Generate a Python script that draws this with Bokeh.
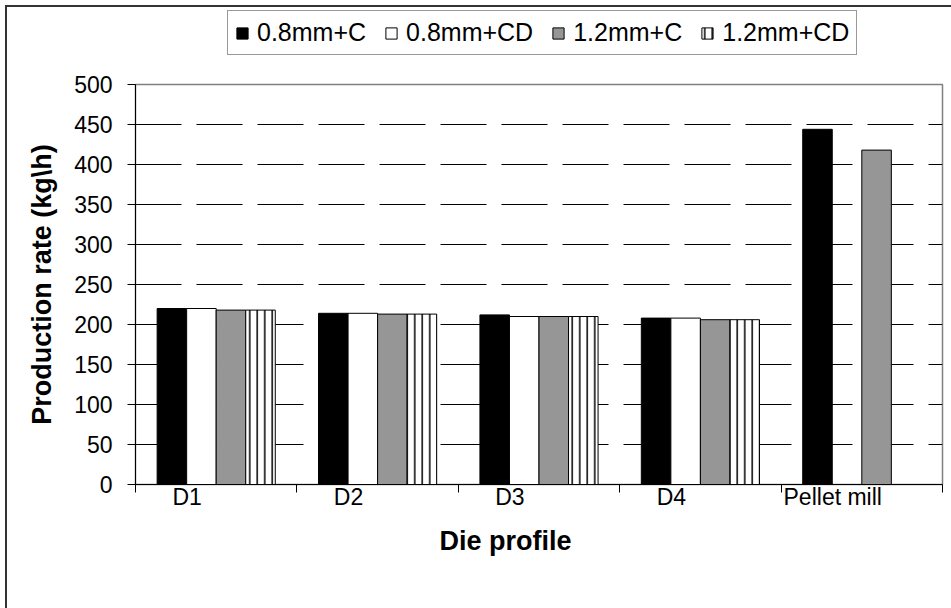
from bokeh.plotting import figure
from bokeh.layouts import column
from bokeh.models import (ColumnDataSource, Range1d, FixedTicker, Legend, LegendItem,
                          InlineStyleSheet, Title)
from bokeh.embed import file_html
from bokeh.resources import INLINE

# ---- data -------------------------------------------------------------
categories = ["D1", "D2", "D3", "D4", "Pellet mill"]
series_names = ["0.8mm+C", "0.8mm+CD", "1.2mm+C", "1.2mm+CD"]
v_08_c = [220, 214, 212, 208, 444]
v_08_cd = [220, 214, 210, 208, None]
v_12_c = [218, 213, 210, 206, 418]
v_12_cd = [218, 213, 210, 206, None]
y_ticks = [0, 50, 100, 150, 200, 250, 300, 350, 400, 450, 500]

series_values = [v_08_c, v_08_cd, v_12_c, v_12_cd]
fills = ["black", "white", "#969696", "white"]
hatches = [None, None, None, "vertical_line"]

FONT = "Liberation Sans"
BAR_W = 0.183
LABEL_SHIFT = -0.18


def bar_style(fc, hp):
    kw = dict(fill_color=fc, line_color="black", line_width=1)
    if hp:
        kw.update(hatch_pattern=hp, hatch_color="black", hatch_scale=7.5, hatch_weight=1.5)
    return kw


def series_source(k, vals):
    xs, tops = [], []
    for i, v in enumerate(vals):
        if v is None:
            continue
        xs.append(i + 0.5 + (k - 1.5) * BAR_W)
        tops.append(v)
    return ColumnDataSource(dict(x=xs, top=tops))


# ---- main chart -------------------------------------------------------
p = figure(width=946, height=543, output_backend="svg", toolbar_location=None,
           x_range=Range1d(0, len(categories)), y_range=Range1d(0, 500),
           min_border_left=130, min_border_right=9, min_border_top=19,
           min_border_bottom=124, frame_width=807, frame_height=400)
p.background_fill_color = "white"
p.border_fill_color = "white"
p.outline_line_color = "#808080"
p.outline_line_width = 1.5

for k, (vals, fc, hp) in enumerate(zip(series_values, fills, hatches)):
    p.vbar(x="x", top="top", width=BAR_W, bottom=0, source=series_source(k, vals),
           **bar_style(fc, hp))

# grid
p.xgrid.grid_line_color = None
p.ygrid.ticker = FixedTicker(ticks=y_ticks[1:-1])
p.ygrid.grid_line_color = "black"
p.ygrid.grid_line_width = 1
p.ygrid.grid_line_dash = "46 15"

# y axis
p.yaxis.ticker = FixedTicker(ticks=y_ticks)
p.yaxis.axis_label = "Production rate (kg\\h)"
p.yaxis.axis_label_text_font = FONT
p.yaxis.axis_label_text_font_style = "bold"
p.yaxis.axis_label_text_font_size = "27px"
p.yaxis.axis_label_text_color = "black"
p.yaxis.axis_label_standoff = 14
p.yaxis.major_label_text_font = FONT
p.yaxis.major_label_text_font_size = "23px"
p.yaxis.major_label_text_color = "black"
p.yaxis.major_tick_out = 8
p.yaxis.major_tick_in = 0
p.yaxis.minor_tick_line_color = None
p.yaxis.axis_line_color = "black"
p.yaxis.major_tick_line_color = "black"
p.yaxis.major_label_standoff = 15

# x axis
label_pos = [i + 0.5 + LABEL_SHIFT for i in range(len(categories))]
p.xaxis.ticker = FixedTicker(ticks=label_pos, minor_ticks=list(range(len(categories) + 1)))
p.xaxis.major_label_overrides = {pos: c for pos, c in zip(label_pos, categories)}
p.xaxis.major_tick_out = 0
p.xaxis.major_tick_in = 0
p.xaxis.minor_tick_out = 8
p.xaxis.minor_tick_in = 0
p.xaxis.minor_tick_line_color = "black"
p.xaxis.major_label_text_font = FONT
p.xaxis.major_label_text_font_size = "23px"
p.xaxis.major_label_text_color = "black"
p.xaxis.major_label_standoff = -9
p.xaxis.axis_line_color = "black"

x_title = Title(text="Die profile", align="left", offset=304, standoff=22,
                text_font=FONT, text_font_style="bold", text_font_size="27px",
                text_color="black")
p.add_layout(x_title, "below")

# ---- legend strip (same series, drawn outside its visible range) -------
lg = figure(width=946, height=60, output_backend="svg", toolbar_location=None,
            x_axis_type=None, y_axis_type=None, min_border=0,
            x_range=Range1d(0, len(categories)), y_range=Range1d(900, 1000))
lg.outline_line_color = None
lg.background_fill_color = "white"
lg.border_fill_color = "white"
lg.xgrid.visible = False
lg.ygrid.visible = False
legend_renderers = []
for k, (vals, fc, hp) in enumerate(zip(series_values, fills, hatches)):
    r = lg.vbar(x="x", top="top", width=BAR_W, bottom=0, source=series_source(k, vals),
                **bar_style(fc, hp))
    legend_renderers.append(r)
items = [LegendItem(label=n, renderers=[r]) for n, r in zip(series_names, legend_renderers)]
legend = Legend(items=items, orientation="horizontal", location=(92, 10),
                label_text_font=FONT, label_text_font_size="25px", label_text_color="black",
                glyph_width=14, glyph_height=14, label_standoff=8, spacing=18,
                padding=7, margin=0, border_line_color="#333", border_line_width=1.5,
                background_fill_alpha=1, label_height=24)
lg.add_layout(legend, "center")

root = column(lg, p, spacing=0, margin=(5, 0, 0, 5))
root.stylesheets = [InlineStyleSheet(css=(
    ":host { position: relative; }"
    ":host::after { content: ''; position: absolute; left: 0; top: 0; right: 0; bottom: 0;"
    " border-left: 2px solid #333; border-top: 2px solid #333; pointer-events: none; }"))]

open("out.html", "w").write(file_html(root, INLINE))
